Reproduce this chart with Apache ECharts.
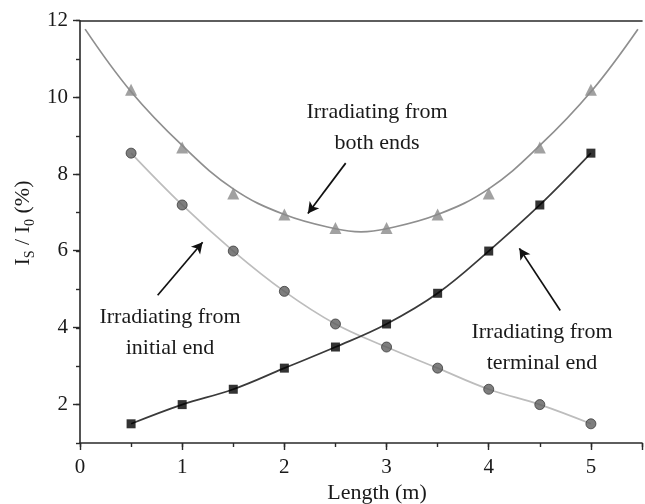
<!DOCTYPE html>
<html><head><meta charset="utf-8">
<script src="https://cdn.jsdelivr.net/npm/echarts@6/dist/echarts.min.js"></script>
<style>html,body{margin:0;padding:0;background:#fff}#c{width:645px;height:504px}</style>
</head><body><div id="c"></div>
<script>
// ---- data ----
const lengths = [0.5, 1, 1.5, 2, 2.5, 3, 3.5, 4, 4.5, 5];
const bothEnds = [10.2, 8.7, 7.5, 6.95, 6.6, 6.6, 6.95, 7.5, 8.7, 10.2];
const initialEnd = [8.55, 7.2, 6.0, 4.95, 4.1, 3.5, 2.95, 2.4, 2.0, 1.5];
const terminalEnd = [1.5, 2.0, 2.4, 2.95, 3.5, 4.1, 4.9, 6.0, 7.2, 8.55];
// fitted curve for "both ends"
const bothFitX = [0.05, 0.5, 1, 1.5, 2, 2.5, 2.75, 3, 3.5, 4, 4.5, 5, 5.46];
const bothFitY = [11.78, 10.15, 8.75, 7.62, 6.95, 6.58, 6.5, 6.58, 6.95, 7.62, 8.75, 10.15, 11.78];
const xTickLabels = [0, 1, 2, 3, 4, 5];
const yTickLabels = [2, 4, 6, 8, 10, 12];
// annotation arrows [tail, head] in data units
const arrowTails = [[2.60, 8.29], [0.76, 4.85], [4.70, 4.45]];
const arrowHeads = [[2.23, 6.98], [1.20, 6.23], [4.30, 6.07]];
const notes = ['Irradiating from\nboth ends', 'Irradiating from\ninitial end', 'Irradiating from\nterminal end'];

const FONT = 'Liberation Serif, Times New Roman, serif';
const AX = '#2a2a2a';
const zip = (a, b) => a.map((v, i) => [v, b[i]]);

const chart = echarts.init(document.getElementById('c'), null, {renderer: 'canvas'});
const axLine = {show: true, lineStyle: {color: AX, width: 1.6}};
const tickStyle = {color: AX, width: 1.4};

chart.setOption({
  animation: false,
  backgroundColor: '#fff',
  textStyle: {fontFamily: FONT, color: '#1a1a1a'},
  grid: [
    {left: 80, top: 20.7, width: 569, height: 422.3},
    {left: 80, top: 20.7, width: 569, height: 383.3}
  ],
  xAxis: [
    {gridIndex: 0, type: 'value', position: 'bottom', min: 0, max: 5.5, interval: 0.5,
     axisLine: axLine, axisTick: {show: true, length: 4, lineStyle: tickStyle},
     axisLabel: {show: false}, splitLine: {show: false}},
    {gridIndex: 0, type: 'value', position: 'bottom', min: 0, max: 5.5, interval: 1,
     axisLine: {show: false}, axisTick: {show: true, length: 7, lineStyle: tickStyle},
     axisLabel: {show: true, margin: 14, fontSize: 21, fontFamily: FONT, color: '#1a1a1a',
       formatter: v => xTickLabels.indexOf(v) >= 0 ? String(v) : ''},
     splitLine: {show: false}},
    {gridIndex: 0, type: 'value', position: 'top', min: 0, max: 5.5,
     axisLine: axLine, axisTick: {show: false}, axisLabel: {show: false}, splitLine: {show: false}},
    {gridIndex: 1, type: 'value', show: false, min: 0, max: 5.5}
  ],
  yAxis: [
    {gridIndex: 0, type: 'value', position: 'left', min: 1, max: 12, interval: 1,
     axisLine: axLine, axisTick: {show: true, length: 4, lineStyle: tickStyle},
     axisLabel: {show: false}, splitLine: {show: false}},
    {gridIndex: 1, type: 'value', position: 'left', min: 2, max: 12, interval: 2,
     axisLine: {show: false}, axisTick: {show: true, length: 7, lineStyle: tickStyle},
     axisLabel: {show: true, margin: 12, fontSize: 21, fontFamily: FONT, color: '#1a1a1a',
       formatter: v => yTickLabels.indexOf(v) >= 0 ? String(v) : ''},
     splitLine: {show: false}}
  ],
  series: [
    {type: 'line', xAxisIndex: 0, yAxisIndex: 0, data: zip(bothFitX, bothFitY), smooth: 0.4,
     showSymbol: false, symbol: 'none', lineStyle: {color: '#8f8f8f', width: 1.7}, z: 2,
     markLine: {
       silent: true, symbol: ['none', 'arrow'], symbolSize: [9, 11],
       lineStyle: {color: '#111', width: 1.7, type: 'solid'}, label: {show: false},
       data: arrowTails.map((t, i) => [{coord: t}, {coord: arrowHeads[i]}])
     }},
    {type: 'line', xAxisIndex: 0, yAxisIndex: 0, data: zip(lengths, initialEnd), smooth: 0.4,
     showSymbol: false, symbol: 'none', lineStyle: {color: '#bdbdbd', width: 1.7}, z: 2},
    {type: 'line', xAxisIndex: 0, yAxisIndex: 0, data: zip(lengths, terminalEnd), smooth: 0.4,
     showSymbol: false, symbol: 'none', lineStyle: {color: '#3a3a3a', width: 1.7}, z: 2},
    {type: 'scatter', xAxisIndex: 0, yAxisIndex: 0, data: zip(lengths, bothEnds), symbol: 'triangle',
     symbolSize: 12, itemStyle: {color: '#8a8a8a'}, z: 3},
    {type: 'scatter', xAxisIndex: 0, yAxisIndex: 0, data: zip(lengths, initialEnd), symbol: 'circle',
     symbolSize: 10, itemStyle: {color: '#5e5e5e', borderColor: '#3c3c3c', borderWidth: 1}, z: 3},
    {type: 'scatter', xAxisIndex: 0, yAxisIndex: 0, data: zip(lengths, terminalEnd), symbol: 'rect',
     symbolSize: 9, itemStyle: {color: '#000'}, z: 3}
  ],
  graphic: [
    {type: 'text', x: 377, y: 128, style: {text: notes[0], font: '22px ' + FONT,
      fill: '#1a1a1a', textAlign: 'center', textVerticalAlign: 'middle', lineHeight: 31}},
    {type: 'text', x: 170, y: 333, style: {text: notes[1], font: '22px ' + FONT,
      fill: '#1a1a1a', textAlign: 'center', textVerticalAlign: 'middle', lineHeight: 31}},
    {type: 'text', x: 542, y: 348, style: {text: notes[2], font: '22px ' + FONT,
      fill: '#1a1a1a', textAlign: 'center', textVerticalAlign: 'middle', lineHeight: 31}},
    {type: 'text', x: 377, y: 493, style: {text: 'Length (m)', font: '22px ' + FONT,
      fill: '#1a1a1a', textAlign: 'center', textVerticalAlign: 'middle'}},
    {type: 'text', x: 23, y: 223, rotation: Math.PI / 2,
     style: {text: '{n|I}{s|S}{n| / I}{s|0}{n| (%)}', textAlign: 'center', textVerticalAlign: 'middle',
       rich: {n: {fontSize: 22, fontFamily: FONT, fill: '#1a1a1a', lineHeight: 28, verticalAlign: 'middle'},
              s: {fontSize: 14, fontFamily: FONT, fill: '#1a1a1a', lineHeight: 28, verticalAlign: 'bottom'}}}}
  ]
});
</script></body></html>
